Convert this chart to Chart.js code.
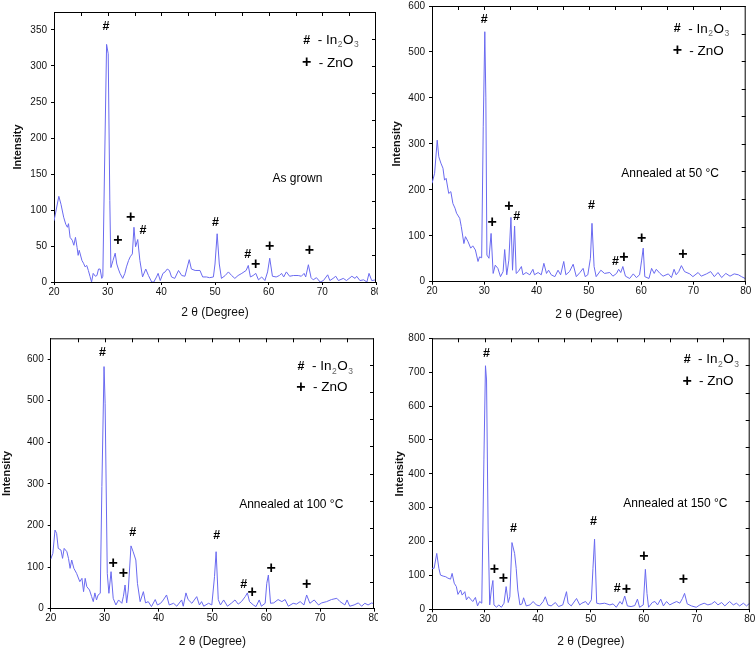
<!DOCTYPE html>
<html>
<head>
<meta charset="utf-8">
<script src="https://cdn.jsdelivr.net/npm/chart.js@4/dist/chart.umd.min.js"></script>
<style>
  html, body { margin: 0; padding: 0; background: #fff; }
  #wrap { position: relative; width: 756px; height: 651px; overflow: hidden; background: #fff; }
  canvas { position: absolute; }
</style>
</head>
<body>
<div id="wrap">
  <canvas id="c1" width="378" height="322" style="left:0;top:0;width:378px;height:322px"></canvas>
  <canvas id="c2" width="378" height="322" style="left:378px;top:0;width:378px;height:322px"></canvas>
  <canvas id="c3" width="378" height="329" style="left:0;top:322px;width:378px;height:329px"></canvas>
  <canvas id="c4" width="378" height="329" style="left:378px;top:322px;width:378px;height:329px"></canvas>
</div>
<script>
// ---------- shared axis text ----------
const xTitle = '2 \u03b8 (Degree)';
const yTitle = 'Intensity';
const xTickValues = [20, 30, 40, 50, 60, 70, 80];
const legendHash = '#';
const legendPlus = '+';
const legendIn2O3 = ['- In', '2', 'O', '3'];
const legendZnO = '- ZnO';

// ---------- Panel 1 : As grown ----------
const p1Label = 'As grown';
const p1X = [20.0,20.4,20.9,21.3,21.8,22.2,22.5,22.7,23.0,23.4,23.7,24.0,24.3,24.5,24.7,25.2,25.5,25.8,26.1,26.4,26.7,27.0,27.3,27.7,28.0,28.3,28.6,28.9,29.1,29.4,29.8,30.1,30.4,30.6,31.0,31.4,31.7,32.0,32.3,32.8,33.2,33.5,33.9,34.2,34.6,34.9,35.2,35.6,36.0,36.5,37.1,37.6,38.2,38.6,39.1,39.4,39.8,40.3,40.7,41.1,41.5,41.9,42.5,43.2,43.8,44.4,45.2,45.6,46.3,47.2,47.7,48.4,49.0,49.7,50.0,50.4,50.8,51.2,51.9,52.5,53.1,53.7,54.3,55.0,55.4,55.8,56.2,56.6,57.1,57.6,58.1,58.7,59.3,59.8,60.2,60.7,61.4,62.0,62.4,62.8,63.3,63.9,64.6,65.5,66.1,66.6,66.9,67.4,67.9,68.3,68.9,69.6,70.2,71.0,71.4,72.0,72.5,73.0,73.9,74.5,75.5,76.1,76.4,77.0,77.7,78.3,78.7,79.2,80.0];
const p1Y = [85,100,119,108,90,80,76,81,62,58,51,62,48,37,44,30,26,21,23,16,8,0,12,8,9,18,18,5,8,150,330,317,113,20,30,40,25,18,12,5,12,21,30,35,39,76,49,59,30,7,18,9,0,0,7,12,2,12,14,18,16,7,5,16,9,8,31,18,16,16,7,7,6,7,25,67,25,5,9,14,9,5,9,12,14,16,23,7,9,12,3,7,2,14,33,8,7,9,12,7,14,8,9,9,8,12,7,24,6,3,6,0,2,10,2,5,8,2,5,2,8,5,8,2,3,0,12,2,3];
const p1Hash = [[29.7,355],[36.6,72],[50.1,83],[56.1,38]];
const p1Plus = [[31.9,58],[34.3,90],[57.6,24],[60.2,49],[67.6,43]];

// ---------- Panel 2 : Annealed at 50 °C ----------
const p2Label = 'Annealed at 50 \u00b0C';
const p2X = [20.0,20.5,21.0,21.3,21.7,22.1,22.4,22.7,23.2,23.6,24.0,24.4,24.7,25.3,25.6,26.1,26.4,26.9,27.4,27.8,28.3,28.8,29.1,29.5,29.8,30.1,30.3,30.5,30.9,31.3,31.7,32.1,32.6,33.1,33.6,33.9,34.3,34.7,35.1,35.4,35.8,36.1,36.5,37.1,37.4,38.0,38.7,39.3,39.6,40.3,40.9,41.4,41.9,42.3,42.8,43.5,44.1,44.6,45.2,45.6,46.3,47.0,47.6,48.3,48.9,49.3,49.8,50.3,50.6,51.0,51.4,52.3,53.0,54.0,54.6,55.3,55.7,56.1,56.5,57.0,57.8,58.5,59.1,59.7,60.1,60.4,60.7,61.5,62.0,62.5,62.9,63.6,64.2,65.2,65.8,66.3,66.7,67.2,67.7,68.3,69.3,69.9,70.9,71.5,72.5,73.3,74.0,74.7,75.4,76.2,77.0,77.8,78.6,79.2,79.9];
const p2Y = [214,236,308,272,258,247,221,225,192,196,170,160,149,138,120,83,98,87,73,78,69,44,54,52,337,544,400,58,51,105,18,36,29,11,22,70,15,47,140,25,121,18,22,33,15,20,15,27,15,20,15,40,18,25,15,11,25,15,44,15,22,38,11,20,29,11,15,51,127,33,11,25,18,20,12,18,27,20,33,12,7,17,9,15,47,73,11,7,29,18,27,18,12,17,9,27,15,22,35,22,17,11,20,12,17,22,11,20,9,18,12,17,15,11,7];
const p2Hash = [[30.0,571],[36.2,141],[50.5,165],[55.1,44]];
const p2Plus = [[31.5,128],[34.7,163],[56.7,52],[60.1,93],[68.0,60]];

// ---------- Panel 3 : Annealed at 100 °C ----------
const p3Label = 'Annealed at 100 \u00b0C';
const p3X = [20.0,20.4,20.8,21.1,21.4,21.9,22.2,22.5,23.0,23.3,23.6,23.9,24.3,24.8,25.4,25.8,26.1,26.4,26.7,27.2,27.6,27.9,28.2,28.5,28.8,29.2,29.5,29.9,30.1,30.5,30.8,31.2,31.6,32.1,32.6,33.2,33.5,33.8,34.1,34.4,34.9,35.3,35.8,36.1,36.6,37.2,37.6,38.1,38.7,39.4,39.8,40.4,40.9,41.5,42.0,42.8,43.4,44.3,44.6,45.1,45.5,46.2,47.1,47.6,48.0,48.4,49.3,49.9,50.4,50.7,51.1,51.5,52.1,52.8,53.6,54.2,54.8,55.4,56.1,56.5,56.9,57.6,58.1,58.7,59.1,59.8,60.1,60.4,60.8,61.4,62.2,62.9,63.5,64.1,65.0,65.6,66.3,67.0,67.5,68.1,68.9,69.7,70.3,71.2,72.1,73.1,73.7,74.6,75.0,75.5,76.3,77.1,77.7,78.3,78.9,79.6,80.0];
const p3Y = [119,133,189,181,145,141,121,145,137,121,97,117,97,85,65,73,41,73,53,45,29,17,38,21,33,37,294,582,494,85,37,89,25,9,21,13,30,57,14,45,151,137,117,61,17,41,14,17,5,22,9,13,21,33,9,13,6,21,6,38,22,13,29,9,17,6,13,9,77,137,22,9,21,6,14,21,11,17,29,38,17,9,5,21,6,13,61,81,13,14,22,17,22,6,13,11,17,9,33,13,21,9,14,17,22,25,17,9,21,6,9,14,6,13,9,14,11];
const p3Hash = [[29.6,616],[35.2,184],[50.8,176],[55.8,59]];
const p3Plus = [[31.6,109],[33.5,85],[57.4,39],[60.9,97],[67.5,57]];

// ---------- Panel 4 : Annealed at 150 °C ----------
const p4Label = 'Annealed at 150 \u00b0C';
const p4X = [20.0,20.4,20.9,21.3,21.6,22.1,22.6,23.0,23.5,23.8,24.2,24.6,24.9,25.4,25.7,26.2,26.5,26.9,27.4,27.7,28.2,28.6,29.0,29.4,29.8,30.1,30.3,30.6,30.9,31.2,31.5,31.7,32.2,32.6,33.1,33.6,34.0,34.4,34.7,35.1,35.6,35.9,36.2,36.6,37.0,37.3,37.8,38.5,39.1,39.7,40.3,41.0,41.4,41.9,42.5,43.3,43.9,44.7,45.4,45.7,46.3,47.3,47.9,48.3,49.0,49.5,50.1,50.4,50.7,51.1,51.7,52.6,53.6,54.2,54.8,55.5,55.9,56.4,56.9,57.6,58.3,58.8,59.2,59.9,60.3,60.6,60.9,61.6,62.1,62.6,63.2,63.7,64.3,64.9,65.5,66.2,66.8,67.3,67.7,68.2,69.0,69.9,70.6,71.4,72.1,72.8,73.4,74.0,74.7,75.3,76.2,76.9,77.5,78.1,78.8,79.4,80.0];
const p4Y = [121,121,165,121,101,98,96,92,89,106,77,67,44,57,42,52,28,37,28,23,35,10,23,18,441,719,677,234,13,57,85,13,6,13,6,18,67,20,37,197,165,121,57,13,16,34,10,13,23,13,10,23,37,13,10,20,8,13,52,18,10,32,13,18,23,13,28,121,207,18,16,18,13,16,6,23,15,39,10,8,11,30,6,13,118,47,6,20,23,13,30,10,23,13,18,23,18,32,47,16,10,6,13,18,13,16,23,13,20,10,23,13,18,10,18,10,18];
const p4Hash = [[30.3,756],[35.4,239],[50.5,259],[55.0,62]];
const p4Plus = [[31.8,116],[33.5,92],[56.7,59],[60.0,156],[67.5,87]];

// ---------- drawing ----------
const FONT = "'Liberation Sans', Arial, sans-serif";
const LINE_COLOR = '#6a6af0';

const decorPlugin = {
  id: 'decor',
  afterDraw(chart) {
    const o = chart.options.plugins.decor;
    const {ctx, chartArea: a} = chart;
    const xs = chart.scales.x, ys = chart.scales.y;
    const w = a.right - a.left, h = a.bottom - a.top;
    ctx.save();
    ctx.strokeStyle = '#000';
    ctx.lineWidth = 1;
    ctx.beginPath();
    // top and right frame
    ctx.moveTo(a.left, a.top + 0.5); ctx.lineTo(a.right, a.top + 0.5);
    ctx.moveTo(a.right - 0.5, a.top); ctx.lineTo(a.right - 0.5, a.bottom);
    // inward ticks on top axis every 5 degrees
    for (let v = xs.min + 5; v < xs.max; v += 5) {
      const px = Math.round(xs.getPixelForValue(v)) + 0.5;
      ctx.moveTo(px, a.top); ctx.lineTo(px, a.top + 4);
    }
    // inward ticks on right axis (10 divisions)
    for (let k = 1; k < 10; k++) {
      const py = Math.round(a.top + h * k / 10) + 0.5;
      ctx.moveTo(a.right, py); ctx.lineTo(a.right - 4, py);
    }
    ctx.stroke();

    ctx.fillStyle = '#000';
    ctx.textAlign = 'center';
    ctx.textBaseline = 'middle';
    // phase markers at data positions
    ctx.font = 'bold 12.5px ' + FONT;
    o.hash.forEach(([x, y]) => ctx.fillText(legendHash, xs.getPixelForValue(x), ys.getPixelForValue(y)));
    ctx.font = 'bold 16px ' + FONT;
    o.plus.forEach(([x, y]) => ctx.fillText(legendPlus, xs.getPixelForValue(x), ys.getPixelForValue(y)));

    // legend
    const lx = a.left + w * o.legX;
    const ly1 = a.top + h * o.legY1;
    const ly2 = a.top + h * o.legY2;
    ctx.font = 'bold 12.5px ' + FONT;
    ctx.fillText(legendHash, lx, ly1);
    ctx.font = 'bold 16px ' + FONT;
    ctx.fillText(legendPlus, lx, ly2);
    ctx.textAlign = 'left';
    let tx = lx + 11;
    ctx.font = '13.5px ' + FONT;
    ctx.fillText(legendIn2O3[0], tx, ly1); tx += ctx.measureText(legendIn2O3[0]).width + 0.5;
    ctx.font = '8.5px ' + FONT; ctx.fillStyle = '#666';
    ctx.fillText(legendIn2O3[1], tx, ly1 + 5); tx += ctx.measureText(legendIn2O3[1]).width + 0.5;
    ctx.font = '13.5px ' + FONT; ctx.fillStyle = '#000';
    ctx.fillText(legendIn2O3[2], tx, ly1); tx += ctx.measureText(legendIn2O3[2]).width + 0.5;
    ctx.font = '8.5px ' + FONT; ctx.fillStyle = '#666';
    ctx.fillText(legendIn2O3[3], tx, ly1 + 5);
    ctx.fillStyle = '#000';
    ctx.font = '13.5px ' + FONT;
    ctx.fillText(legendZnO, lx + 12, ly2);

    // condition label
    ctx.textAlign = 'center';
    ctx.font = '12px ' + FONT;
    ctx.fillText(o.label, a.left + w * o.labX, a.top + h * o.labY);
    ctx.restore();
  }
};

function makeChart(id, xsArr, ysArr, hash, plus, label, yMax, yStep, L) {
  const points = xsArr.map((x, i) => ({x: x, y: ysArr[i]}));
  return new Chart(document.getElementById(id), {
    type: 'line',
    data: { datasets: [{ data: points, borderColor: LINE_COLOR, borderWidth: 1, pointRadius: 0, tension: 0, fill: false }] },
    plugins: [decorPlugin],
    options: {
      responsive: false,
      animation: false,
      devicePixelRatio: 1,
      layout: { padding: { left: 0, top: L.padTop, right: L.padRight, bottom: 0 } },
      plugins: {
        legend: { display: false },
        tooltip: { enabled: false },
        decor: { hash: hash, plus: plus, label: label, legX: L.legX, legY1: L.legY1, legY2: L.legY2, labX: L.labX, labY: L.labY }
      },
      scales: {
        x: {
          type: 'linear', min: 20, max: 80,
          afterBuildTicks: s => { s.ticks = xTickValues.map(v => ({value: v})); },
          afterFit: s => { s.height = L.xh; s.paddingLeft = 0; s.paddingRight = 0; },
          ticks: { stepSize: 10, padding: 1, maxRotation: 0, autoSkip: false, color: '#111', font: { family: FONT, size: 10 } },
          grid: { display: true, drawOnChartArea: false, drawTicks: true, tickLength: 3, color: '#000' },
          border: { display: true, color: '#000', width: 1 },
          title: { display: true, text: xTitle, color: '#111', font: { family: FONT, size: 12 }, padding: { top: 0, bottom: L.xTitlePad } }
        },
        y: {
          type: 'linear', min: 0, max: yMax,
          afterFit: s => { s.width = L.yw; s.paddingTop = 0; s.paddingBottom = 0; },
          ticks: { stepSize: yStep, includeBounds: false, padding: 4, color: '#111', font: { family: FONT, size: 10 } },
          grid: { display: true, drawOnChartArea: false, drawTicks: true, tickLength: 3, color: '#000' },
          border: { display: true, color: '#000', width: 1 },
          title: { display: true, text: yTitle, color: '#111', font: { family: FONT, size: 11, weight: 'bold' }, padding: { top: L.yTitlePad, bottom: 0 } }
        }
      }
    }
  });
}

makeChart('c1', p1X, p1Y, p1Hash, p1Plus, p1Label, 375, 50,
  { yw: 54, xh: 40, padTop: 12, padRight: 2, yTitlePad: 11.4, xTitlePad: 2, legX: 0.785, legY1: 0.104, legY2: 0.189, labX: 0.756, labY: 0.619 });
makeChart('c2', p2X, p2Y, p2Hash, p2Plus, p2Label, 600, 100,
  { yw: 54, xh: 40.3, padTop: 6, padRight: 10.3, yTitlePad: 12.4, xTitlePad: 0, legX: 0.782, legY1: 0.083, legY2: 0.163, labX: 0.759, labY: 0.609 });
makeChart('c3', p3X, p3Y, p3Hash, p3Plus, p3Label, 650, 100,
  { yw: 50.7, xh: 42.3, padTop: 16.3, padRight: 4, yTitlePad: 0.4, xTitlePad: 2, legX: 0.774, legY1: 0.105, legY2: 0.181, labX: 0.744, labY: 0.614 });
makeChart('c4', p4X, p4Y, p4Hash, p4Plus, p4Label, 800, 100,
  { yw: 54, xh: 41.7, padTop: 16.3, padRight: 6.3, yTitlePad: 15.4, xTitlePad: 2, legX: 0.803, legY1: 0.0775, legY2: 0.16, labX: 0.766, labY: 0.609 });
</script>
</body>
</html>
